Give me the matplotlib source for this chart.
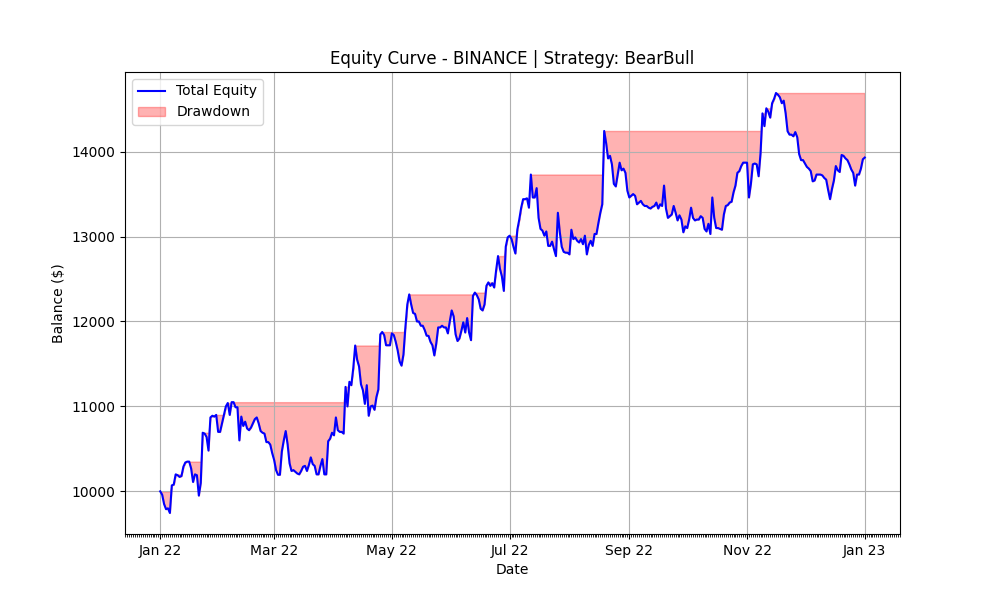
import matplotlib
matplotlib.use("Agg")
import matplotlib.dates as mdates
import matplotlib.pyplot as plt
import numpy as np
import pandas as pd

exchange = "BINANCE"
strategy = "BearBull"
start_date, end_date = "2022-01-01", "2023-01-01"

# daily total equity
equity = [
    10000, 9960, 9850, 9790, 9800, 9745, 10070, 10080, 10200, 10190,
    10170, 10180, 10290, 10340, 10350, 10350, 10270, 10110, 10200, 10190,
    9950, 10100, 10690, 10680, 10640, 10480, 10870, 10890, 10880, 10900,
    10700, 10700, 10800, 10900, 11000, 11040, 10900, 11050, 11050, 10990,
    10990, 10600, 10880, 10770, 10820, 10740, 10720, 10750, 10800, 10850,
    10870, 10800, 10710, 10690, 10680, 10580, 10580, 10550, 10450, 10370,
    10250, 10195, 10195, 10470, 10600, 10710, 10550, 10330, 10240, 10250,
    10230, 10210, 10200, 10240, 10290, 10300, 10240, 10310, 10400, 10320,
    10300, 10200, 10200, 10300, 10380, 10200, 10200, 10590, 10620, 10690,
    10660, 10870, 10720, 10700, 10700, 10680, 11230, 11000, 11290, 11250,
    11450, 11717, 11550, 11470, 11260, 11190, 11030, 11250, 10890, 11000,
    11010, 10960, 11110, 11200, 11848, 11876, 11840, 11720, 11720, 11720,
    11860, 11840, 11760, 11660, 11530, 11480, 11610, 11930, 12200, 12319,
    12200, 12100, 12090, 12000, 12000, 11950, 11950, 11900, 11833, 11830,
    11760, 11720, 11600, 11740, 11930, 11930, 11950, 11930, 11930, 11860,
    12000, 12130, 12060, 11850, 11770, 11800, 11890, 11990, 11870, 12040,
    11870, 11780, 12300, 12340, 12310, 12260, 12150, 12130, 12200, 12420,
    12460, 12420, 12450, 12400, 12600, 12770, 12620, 12530, 12360, 12880,
    12990, 13010, 12970, 12880, 12800, 13080, 13200, 13340, 13440, 13440,
    13450, 13340, 13730, 13460, 13460, 13570, 13220, 13090, 13070, 13010,
    13060, 12890, 12890, 12940, 12850, 12770, 13280, 13050, 12880, 12820,
    12810, 12810, 12790, 13080, 12970, 12990, 12950, 12930, 12970, 12910,
    13010, 12790, 12900, 12950, 12890, 13030, 13030, 13160, 13280, 13380,
    14243, 14100, 13920, 13950, 13850, 13620, 13590, 13730, 13870, 13780,
    13800, 13750, 13540, 13460, 13480, 13500, 13480, 13380, 13400, 13420,
    13380, 13360, 13360, 13340, 13330, 13350, 13360, 13400, 13330, 13380,
    13360, 13600, 13330, 13220, 13240, 13260, 13360, 13280, 13190, 13250,
    13200, 13050, 13120, 13100, 13200, 13340, 13220, 13190, 13200, 13200,
    13240, 13220, 13090, 13060, 13150, 13030, 13460, 13220, 13100, 13100,
    13090, 13080, 13260, 13360, 13370, 13400, 13410, 13520, 13600, 13750,
    13770, 13830, 13870, 13870, 13870, 13460, 13620, 13850, 13860, 13850,
    13710, 13980, 14450, 14300, 14510, 14470, 14400, 14570, 14620, 14690,
    14670, 14640, 14570, 14600, 14450, 14240, 14200, 14200, 14180, 14230,
    14170, 13970, 13900, 13900, 13860, 13820, 13800, 13770, 13650, 13660,
    13730, 13730, 13730, 13720, 13690, 13670, 13550, 13440, 13560, 13660,
    13830, 13780, 13760, 13960, 13950, 13920, 13900, 13850, 13790, 13750,
    13600, 13730, 13730, 13800, 13910, 13930,
]

dates = pd.date_range(start_date, end_date, freq="D")
equity = np.asarray(equity, dtype=float)
running_max = np.maximum.accumulate(equity)

fig, ax = plt.subplots(figsize=(10, 6))
ax.plot(dates, equity, color="blue", label="Total Equity")
ax.fill_between(dates, equity, running_max, color="red", alpha=0.3, label="Drawdown")
ax.set_title(f"Equity Curve - {exchange} | Strategy: {strategy}")
ax.set_xlabel("Date"); ax.set_ylabel("Balance ($)")
ax.xaxis.set_major_locator(mdates.MonthLocator(interval=2))
ax.xaxis.set_major_formatter(mdates.DateFormatter("%b %y"))
ax.xaxis.set_minor_locator(mdates.DayLocator())
ax.legend(loc="upper left"); ax.grid(True)
fig.savefig("out.png", dpi=100)
